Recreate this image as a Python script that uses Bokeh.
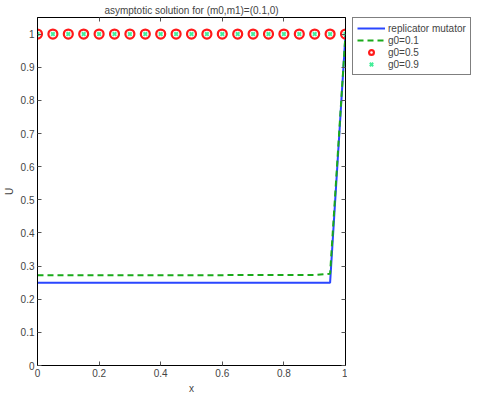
from bokeh.plotting import figure
from bokeh.layouts import row
from bokeh.models import (LinearAxis, Legend, LegendItem, FixedTicker, Range1d,
                          CustomJSTickFormatter)
from bokeh.embed import file_html
from bokeh.resources import INLINE

# ---- data ----
rm_x = [0.0, 0.95, 1.0]
rm_y = [0.25, 0.25, 1.0]

g01_x = [0.0, 0.90, 0.95, 1.0]
g01_y = [0.272, 0.273, 0.277, 1.0]

mk_x = [0.0, 0.05, 0.10, 0.15, 0.20, 0.25, 0.30, 0.35, 0.40, 0.45, 0.50,
        0.55, 0.60, 0.65, 0.70, 0.75, 0.80, 0.85, 0.90, 0.95, 1.0]
g05_y = [1.0, 1.0, 1.0, 1.0, 1.0, 1.0, 1.0, 1.0, 1.0, 1.0, 1.0,
         1.0, 1.0, 1.0, 1.0, 1.0, 1.0, 1.0, 1.0, 1.0, 1.0]
g09_y = [1.0, 1.0, 1.0, 1.0, 1.0, 1.0, 1.0, 1.0, 1.0, 1.0, 1.0,
         1.0, 1.0, 1.0, 1.0, 1.0, 1.0, 1.0, 1.0, 1.0, 1.0]

series_labels = ["replicator mutator", "g0=0.1", "g0=0.5", "g0=0.9"]

x_ticks = [0, 0.2, 0.4, 0.6, 0.8, 1]
y_ticks = [0, 0.1, 0.2, 0.3, 0.4, 0.5, 0.6, 0.7, 0.8, 0.9, 1]

FONT = "Liberation Sans"
FW, FH = 308, 348
H2 = 380
BLUE, GREEN, RED, MINT = "#2a46ff", "#1aaa1a", "#ff1a1a", "#44ee99"


def add_series(fig):
    r1 = fig.line(rm_x, rm_y, line_color=BLUE, line_width=2)
    r2 = fig.line(g01_x, g01_y, line_color=GREEN, line_width=2, line_dash="6 4")
    r3 = fig.scatter(mk_x, g05_y, marker="circle", size=9, fill_color=None,
                     line_color=RED, line_width=2.2)
    r4 = fig.scatter(mk_x, g09_y, marker="x", size=5, line_color=MINT, line_width=2)
    return [r1, r2, r3, r4]


p = figure(frame_width=FW, frame_height=FH, output_backend="svg", toolbar_location=None,
           x_range=Range1d(0, 1), y_range=Range1d(0, 1.05),
           title="asymptotic solution for (m0,m1)=(0.1,0)",
           min_border_left=0, min_border_right=2, min_border_top=4, min_border_bottom=0)
p.title.text_font = FONT
p.title.text_font_size = "10px"
p.title.text_font_style = "normal"
p.title.align = "center"
p.title.standoff = 4
p.xgrid.visible = False
p.ygrid.visible = False
p.outline_line_color = "black"
p.background_fill_color = "white"
p.border_fill_color = "white"

fmt = CustomJSTickFormatter(code="return String(Math.round(tick*10)/10);")
blank = CustomJSTickFormatter(code="return '';")


def style_axis(ax, labels=True):
    ax.major_tick_in = 4
    ax.major_tick_out = 0
    ax.minor_tick_in = 0
    ax.minor_tick_out = 0
    ax.axis_line_color = "black"
    ax.major_tick_line_color = "#555555"
    ax.major_label_text_font = FONT
    ax.major_label_text_font_size = "10px"
    ax.major_label_standoff = 3 if labels else 0
    ax.axis_label_text_font = FONT
    ax.axis_label_text_font_size = "10px"
    ax.axis_label_text_font_style = "normal"
    ax.axis_label_standoff = 3


p.xaxis.ticker = FixedTicker(ticks=x_ticks)
p.yaxis.ticker = FixedTicker(ticks=y_ticks)
p.xaxis.formatter = fmt
p.yaxis.formatter = fmt
p.xaxis.axis_label = "x"
p.yaxis.axis_label = "U"
style_axis(p.xaxis[0])
style_axis(p.yaxis[0])

top_ax = LinearAxis(ticker=FixedTicker(ticks=x_ticks), formatter=blank)
style_axis(top_ax, labels=False)
p.add_layout(top_ax, "above")
right_ax = LinearAxis(ticker=FixedTicker(ticks=y_ticks), formatter=blank)
style_axis(right_ax, labels=False)
p.add_layout(right_ax, "right")

add_series(p)

# ---- legend in a side figure (same series, drawn outside its visible range) ----
p2 = figure(width=126, height=H2, output_backend="svg", toolbar_location=None,
            x_range=Range1d(10, 11), y_range=Range1d(10, 11),
            min_border_left=5, min_border_right=0, min_border_top=7, min_border_bottom=0)
p2.axis.visible = False
p2.xgrid.visible = False
p2.ygrid.visible = False
p2.outline_line_color = None
p2.background_fill_color = "white"
p2.border_fill_color = "white"

dummies = add_series(p2)

legend = Legend(items=[LegendItem(label=lab, renderers=[r])
                       for lab, r in zip(series_labels, dummies)],
                location="top_left")
legend.label_text_font = FONT
legend.label_text_font_size = "10px"
legend.glyph_width = 28
legend.glyph_height = 12
legend.label_height = 12
legend.label_standoff = 3
legend.spacing = 0
legend.padding = 4
legend.margin = 0
legend.border_line_color = "black"
legend.border_line_width = 1
p2.add_layout(legend)

layout = row(p, p2)
open("out.html", "w").write(file_html(layout, INLINE))
